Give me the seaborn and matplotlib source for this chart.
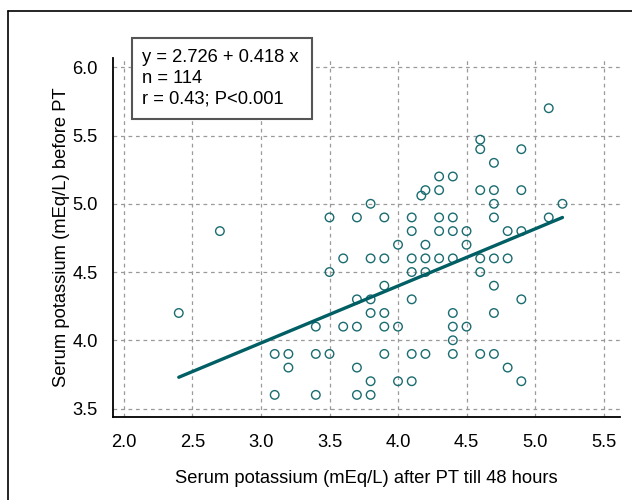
import matplotlib
matplotlib.use('Agg')
import matplotlib.pyplot as plt
from matplotlib.patches import Rectangle
from matplotlib.lines import Line2D
import seaborn as sns
import pandas as pd
import numpy as np

# points, grouped by the y value (before PT)
rows = {
    5.7: [5.1],
    5.47: [4.6],
    5.4: [4.6, 4.9],
    5.3: [4.7],
    5.2: [4.3, 4.4],
    5.1: [4.2, 4.3, 4.6, 4.7, 4.9],
    5.06: [4.17],
    5.0: [3.8, 4.7, 5.2],
    4.9: [3.5, 3.7, 3.9, 4.1, 4.3, 4.4, 4.7, 5.1],
    4.8: [2.7, 4.1, 4.3, 4.4, 4.5, 4.8, 4.9],
    4.7: [4.0, 4.2, 4.5],
    4.6: [3.6, 3.8, 3.9, 4.1, 4.2, 4.3, 4.4, 4.6, 4.7, 4.8],
    4.5: [3.5, 4.1, 4.2, 4.6],
    4.4: [3.9, 4.7],
    4.3: [3.7, 3.8, 4.1, 4.9],
    4.2: [2.4, 3.8, 3.9, 4.4, 4.7],
    4.1: [3.4, 3.6, 3.7, 3.9, 4.0, 4.4, 4.5],
    4.0: [4.4],
    3.9: [3.1, 3.2, 3.4, 3.5, 3.9, 4.1, 4.2, 4.4, 4.6, 4.7],
    3.8: [3.2, 3.7, 4.8],
    3.7: [3.8, 4.0, 4.1, 4.9],
    3.6: [3.1, 3.4, 3.7, 3.8],
}
k_after = [x for yv, xs in rows.items() for x in xs]
k_before = [yv for yv, xs in rows.items() for x in xs]

intercept = 2.726
slope = 0.418
n_obs = 114
r_val = 0.43

x_ticks = [2.0, 2.5, 3.0, 3.5, 4.0, 4.5, 5.0, 5.5]
y_ticks = [3.5, 4.0, 4.5, 5.0, 5.5, 6.0]

df = pd.DataFrame({'after': k_after, 'before': k_before})

sns.set_theme(style='white')
plt.rcParams['font.family'] = ['Liberation Sans', 'DejaVu Sans']

teal = '#1b6c70'
line_col = '#005f64'
fs = 13.2

fig = plt.figure(figsize=(6.32, 5.0), dpi=100)
ax = fig.add_axes([113 / 632, 1 - 417 / 500, (620 - 113) / 632, (417 - 58) / 500])

ax.grid(True, color='#9a9a9a', linestyle=(0, (3, 3)), linewidth=0.9)
ax.set_axisbelow(True)

sns.scatterplot(data=df, x='after', y='before', ax=ax, marker='o', s=38,
                facecolor='none', edgecolor=teal, linewidth=1.0, zorder=3)

xl = np.array([df['after'].min(), df['after'].max()])
line_df = pd.DataFrame({'x': xl, 'y': intercept + slope * xl})
sns.lineplot(data=line_df, x='x', y='y', ax=ax, color=line_col, linewidth=2.4, zorder=4)

ax.set_xlim(1.92, 5.62)
ax.set_ylim(3.438, 6.068)
ax.set_xticks(x_ticks)
ax.set_yticks(y_ticks)
ax.set_xticklabels([f'{v:.1f}' for v in x_ticks])
ax.set_yticklabels([f'{v:.1f}' for v in y_ticks])
ax.tick_params(direction='in', length=6, width=1.2, color='black',
               labelsize=fs, pad=11, labelcolor='black')
ax.tick_params(axis='x', pad=12)
for side in ['top', 'right']:
    ax.spines[side].set_visible(False)
for side in ['left', 'bottom']:
    ax.spines[side].set_color('black')
    ax.spines[side].set_linewidth(1.3)

ax.set_xlabel('Serum potassium (mEq/L) after PT till 48 hours', fontsize=fs, labelpad=14, color='black')
ax.set_ylabel('Serum potassium (mEq/L) before PT', fontsize=fs, labelpad=2, color='black')

# equation box
W, H = 632, 500
box = Rectangle((132 / W, 1 - 119 / H), (312 - 132) / W, (119 - 38) / H,
                transform=fig.transFigure, facecolor='white', edgecolor='#555555',
                linewidth=1.5, zorder=10)
fig.add_artist(box)
txt = f'y = {intercept:.3f} + {slope:.3f} x\nn = {n_obs}\nr = {r_val:.2f}; P<0.001'
fig.text(142 / W, 1 - 49 / H, txt, ha='left', va='top', fontsize=fs,
         linespacing=1.3, zorder=11, color='black')

# outer frame, only left and top edges fall inside the picture
fig.add_artist(Line2D([8 / W, 8 / W], [0, 1 - 11 / H], transform=fig.transFigure, color='black', linewidth=1.2))
fig.add_artist(Line2D([8 / W, 1], [1 - 11 / H, 1 - 11 / H], transform=fig.transFigure, color='black', linewidth=1.2))

fig.savefig('out.png', dpi=100)
